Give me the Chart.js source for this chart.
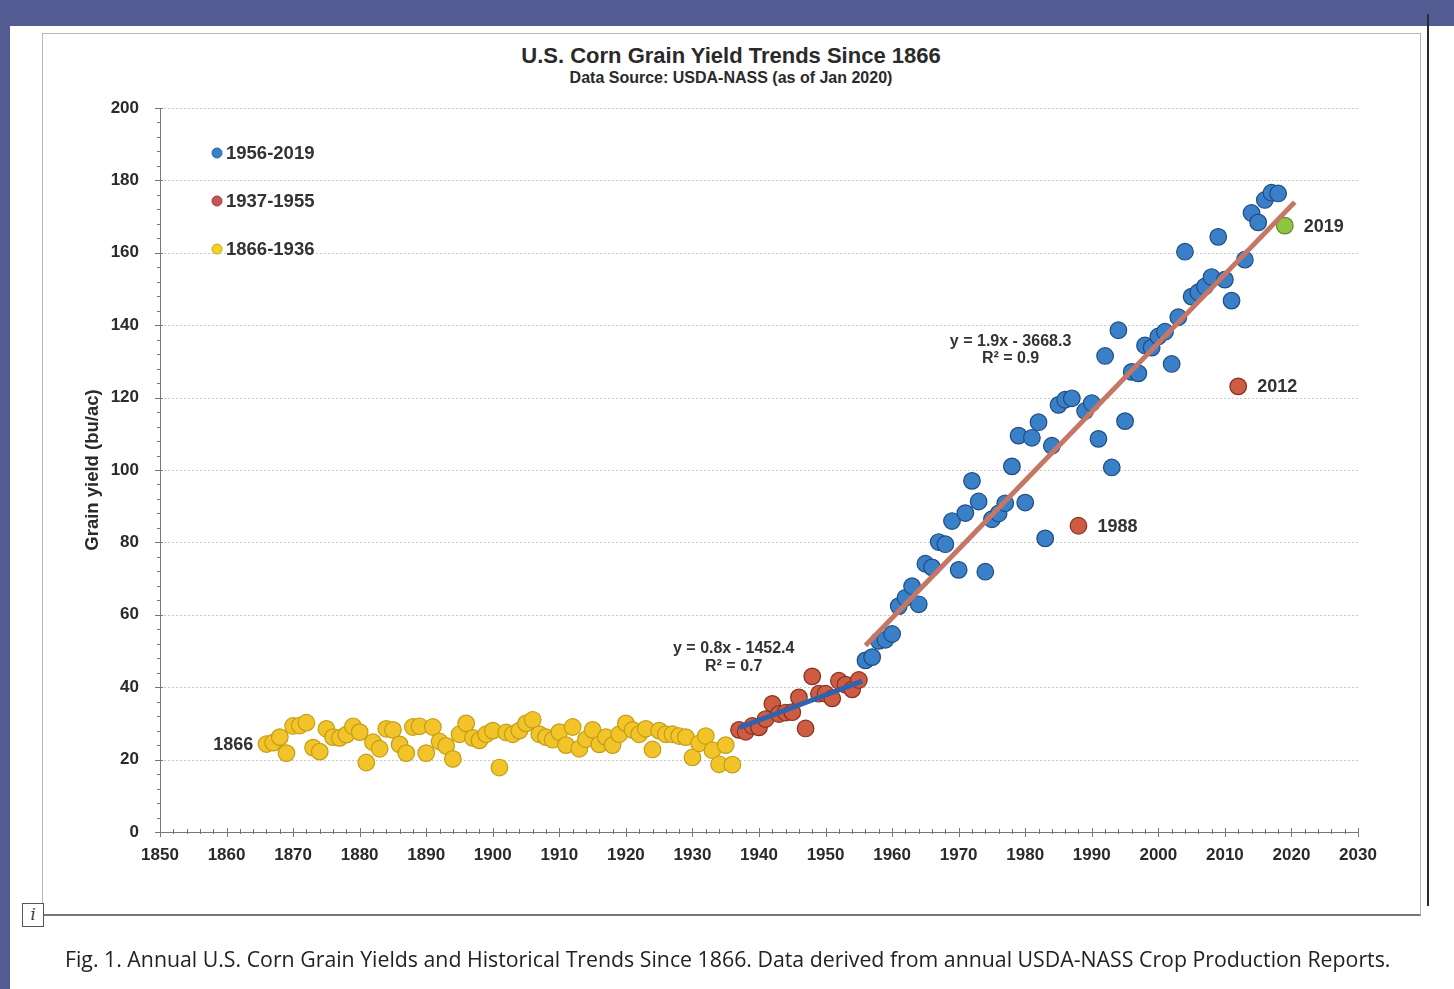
<!DOCTYPE html>
<html>
<head>
<meta charset="utf-8">
<script src="https://cdn.jsdelivr.net/npm/chart.js@4/dist/chart.umd.min.js"></script>
<style>
html,body{margin:0;padding:0;background:#fff;width:1454px;height:989px;overflow:hidden;position:relative;}
#topband{position:absolute;left:0;top:0;width:1454px;height:26px;background:#535b93;}
#leftband{position:absolute;left:0;top:0;width:10px;height:989px;background:#535b93;}
#frame{position:absolute;left:42px;top:33px;width:1379px;height:883px;border:1px solid #b8b8b8;border-bottom:2px solid #777;box-sizing:border-box;}
#vline{position:absolute;left:1427px;top:14px;width:2px;height:892px;background:#2a2a2a;}
#ibox{position:absolute;left:22px;top:903px;width:20px;height:22px;border:1px solid #555;font-family:'DejaVu Serif',serif;font-style:italic;font-size:16px;line-height:22px;text-align:center;color:#333;background:#fff;}
#title{position:absolute;left:0;width:1462px;top:43px;text-align:center;font-family:'Liberation Sans',Arial,sans-serif;font-weight:bold;font-size:22px;color:#2a2a2a;}
#subtitle{position:absolute;left:0;width:1462px;top:69px;text-align:center;font-family:'Liberation Sans',Arial,sans-serif;font-weight:bold;font-size:16px;color:#2a2a2a;}
#caption{position:absolute;left:65px;top:944px;font-family:'Open Sans',sans-serif;font-size:21.3px;color:#222;white-space:nowrap;}
#cv{position:absolute;left:0;top:0;}
</style>
</head>
<body>
<div id="topband"></div>
<div id="leftband"></div>
<div id="frame"></div>
<div id="vline"></div>
<div id="title">U.S. Corn Grain Yield Trends Since 1866</div>
<div id="subtitle">Data Source: USDA-NASS (as of Jan 2020)</div>
<canvas id="cv" width="1454" height="989"></canvas>
<div id="ibox">i</div>
<div id="caption">Fig. 1. Annual U.S. Corn Grain Yields and Historical Trends Since 1866. Data derived from annual USDA-NASS Crop Production Reports.</div>
<script>
// ---- Data (bu/ac) ----
const startEarly = 1866;
const yieldEarly = [24.3,24.7,26.2,21.8,29.3,29.4,30.2,23.3,22.2,28.5,26.2,26.0,26.9,29.2,27.6,19.2,24.8,23.0,28.5,28.2,24.2,21.8,29.0,29.2,21.8,29.0,25.0,23.8,20.2,27.0,30.0,26.0,25.3,27.0,28.0,17.8,27.5,27.0,28.0,30.0,31.0,27.0,26.2,25.5,27.6,24.0,29.0,23.0,25.6,28.2,24.2,26.2,24.0,27.0,30.0,28.2,27.0,28.5,22.8,28.0,27.0,27.0,26.5,26.2,20.6,24.5,26.5,22.6,18.7,24.0,18.6];
const startMid = 1937;
const yieldMid = [28.2,27.7,29.3,28.9,31.2,35.4,32.6,33.0,33.1,37.2,28.6,43.0,38.2,38.2,36.9,41.8,40.7,39.4,42.0];
const startModern = 1956;
const yieldModern = [47.4,48.3,52.8,53.1,54.7,62.4,64.7,67.9,62.9,74.1,73.1,80.1,79.5,85.9,72.4,88.1,97.0,91.3,71.9,86.4,88.0,90.8,101.0,109.5,91.0,108.9,113.2,81.1,106.7,118.0,119.4,119.8,84.6,116.3,118.5,108.6,131.5,100.7,138.6,113.5,127.1,126.7,134.4,133.8,136.9,138.2,129.3,142.2,160.3,147.9,149.1,150.7,153.3,164.4,152.6,146.8,123.1,158.1,171.0,168.4,174.6,176.6,176.4,167.5];
const highlightYears = [1988, 2012];
const latestYear = 2019;
const trendMidX = [1937, 1955.5];
const trendMidY = [28.8, 41.7];
const trendModernX = [1956, 2020.5];
const trendModernY = [51.5, 174.0];
const legendLabels = ['1956-2019','1937-1955','1866-1936'];
const xTickMin = 1850, xTickMax = 2030, xTickStep = 10;
const yTickMin = 0, yTickMax = 200, yTickStep = 20;

// ---- build point lists ----
const toPts = (start, arr) => arr.map((v,i)=>({x:start+i, y:v}));
const earlyPts = toPts(startEarly, yieldEarly);
const midPts = toPts(startMid, yieldMid);
const allModern = toPts(startModern, yieldModern);
const modernPts = allModern.filter(p => !highlightYears.includes(p.x) && p.x !== latestYear);
const highPts = allModern.filter(p => highlightYears.includes(p.x));
const latestPts = allModern.filter(p => p.x === latestYear);
const trendMid = trendMidX.map((x,i)=>({x, y:trendMidY[i]}));
const trendModern = trendModernX.map((x,i)=>({x, y:trendModernY[i]}));

const COL = {
  yellow:'#f2c42a', yellowB:'#c29e16',
  red:'#cd5c42', redB:'#873024',
  blue:'#3a80c9', blueB:'#1f4c82',
  green:'#8fc540', greenB:'#5d8a26',
  trendRed:'#c57664', trendBlue:'#2f63ad'
};
const FONT = "'Liberation Sans', Arial, sans-serif";

const decorPlugin = {
  id:'decor',
  beforeDatasetsDraw(chart){
    const {ctx, scales:{x,y}} = chart;
    ctx.save();
    ctx.strokeStyle = '#c9c9c9';
    ctx.lineWidth = 1;
    ctx.setLineDash([2,2]);
    for (let v = yTickStep; v <= yTickMax; v += yTickStep) {
      const py = Math.round(y.getPixelForValue(v)) + 0.5;
      ctx.beginPath(); ctx.moveTo(x.left, py); ctx.lineTo(x.right, py); ctx.stroke();
    }
    ctx.setLineDash([]);
    ctx.strokeStyle = '#777';
    for (let v = yTickMin; v <= yTickMax; v += 4) {
      const py = Math.round(y.getPixelForValue(v)) + 0.5;
      const major = v % yTickStep === 0;
      ctx.beginPath(); ctx.moveTo(x.left - (major ? 5 : 3), py); ctx.lineTo(x.left + (major?3:0), py); ctx.stroke();
    }
    for (let v = xTickMin; v <= xTickMax; v += 2) {
      const px = Math.round(x.getPixelForValue(v)) + 0.5;
      const major = v % xTickStep === 0;
      ctx.beginPath(); ctx.moveTo(px, y.bottom - (major?4:3)); ctx.lineTo(px, y.bottom + (major?5:2)); ctx.stroke();
    }
    ctx.restore();
  },
  afterDatasetsDraw(chart){
    const {ctx, scales:{x,y}} = chart;
    ctx.save();
    const lg = [[COL.blue,'#2d64a8'],['#c9555a','#9a3c40'],['#f5d21e','#c9a816']];
    lg.forEach((c,i)=>{
      const cx = x.left + 57, cy = y.top + 45 + i*48;
      ctx.beginPath(); ctx.arc(cx, cy, 5, 0, Math.PI*2);
      ctx.fillStyle = c[0]; ctx.fill(); ctx.lineWidth = 1; ctx.strokeStyle = c[1]; ctx.stroke();
      ctx.fillStyle = '#333'; ctx.font = 'bold 18.5px ' + FONT;
      ctx.textAlign = 'left'; ctx.textBaseline = 'middle';
      ctx.fillText(legendLabels[i], cx + 9, cy + 1);
    });
    ctx.fillStyle = '#333';
    ctx.font = 'bold 18px ' + FONT;
    ctx.textBaseline = 'middle';
    ctx.textAlign = 'right';
    ctx.fillText(String(startEarly), x.getPixelForValue(1864), y.getPixelForValue(yieldEarly[0]) + 1);
    ctx.textAlign = 'left';
    highPts.concat(latestPts).forEach(p=>{
      ctx.fillText(String(p.x), x.getPixelForValue(p.x) + 19, y.getPixelForValue(p.y) + 1);
    });
    ctx.font = 'bold 16px ' + FONT;
    ctx.textAlign = 'center';
    ctx.fillText('y = 0.8x - 1452.4', x.getPixelForValue(1936.2), y.getPixelForValue(50.8));
    ctx.fillText('R\u00B2 = 0.7', x.getPixelForValue(1936.2), y.getPixelForValue(45.6));
    ctx.fillText('y = 1.9x - 3668.3', x.getPixelForValue(1977.8), y.getPixelForValue(135.6));
    ctx.fillText('R\u00B2 = 0.9', x.getPixelForValue(1977.8), y.getPixelForValue(130.7));
    ctx.restore();
  }
};

const ptStyle = (fill, border, r=8.3) => ({
  backgroundColor: fill, borderColor: border, borderWidth: 1.2,
  pointRadius: r, pointHoverRadius: r, showLine: false
});

new Chart(document.getElementById('cv'), {
  type: 'scatter',
  data: {
    datasets: [
      {label:'trendModern', data: trendModern, showLine:true, borderColor: COL.trendRed, borderWidth: 5, pointRadius:0, order:0, backgroundColor:COL.trendRed},
      {label:'trendMid', data: trendMid, showLine:true, borderColor: COL.trendBlue, borderWidth: 5, pointRadius:0, order:0, backgroundColor:COL.trendBlue},
      Object.assign({label:'2019', data: latestPts, order:1}, ptStyle(COL.green, COL.greenB)),
      Object.assign({label:'highlight', data: highPts, order:1}, ptStyle(COL.red, COL.redB)),
      Object.assign({label:'1956-2019', data: modernPts, order:2}, ptStyle(COL.blue, COL.blueB)),
      Object.assign({label:'1937-1955', data: midPts, order:3}, ptStyle(COL.red, COL.redB)),
      Object.assign({label:'1866-1936', data: earlyPts, order:4}, ptStyle(COL.yellow, COL.yellowB))
    ]
  },
  options: {
    responsive: false,
    animation: false,
    devicePixelRatio: 1,
    layout: { padding: { left: 0, top: 108, right: 96, bottom: 107 } },
    plugins: { legend: { display: false }, tooltip: { enabled: false } },
    scales: {
      x: {
        type: 'linear', min: xTickMin, max: xTickMax,
        afterFit: s => { s.height = 50; },
        ticks: { stepSize: xTickStep, autoSkip: false, maxRotation: 0, padding: 13,
          color: '#2a2a2a', font: { family: FONT, weight: 'bold', size: 17 },
          callback: v => String(v) },
        grid: { display: false, drawTicks: false },
        border: { display: true, color: '#777', width: 1 }
      },
      y: {
        min: yTickMin, max: yTickMax,
        afterFit: s => { s.width = 160; },
        ticks: { stepSize: yTickStep, padding: 21, color: '#2a2a2a',
          font: { family: FONT, weight: 'bold', size: 17 }, callback: v => String(v) },
        grid: { display: false, drawTicks: false },
        border: { display: true, color: '#777', width: 1 },
        title: { display: true, text: 'Grain yield (bu/ac)', color: '#2a2a2a',
          font: { family: FONT, weight: 'bold', size: 18.5 }, padding: { top: 82, bottom: 0 } }
      }
    }
  },
  plugins: [decorPlugin]
});
</script>
</body>
</html>
